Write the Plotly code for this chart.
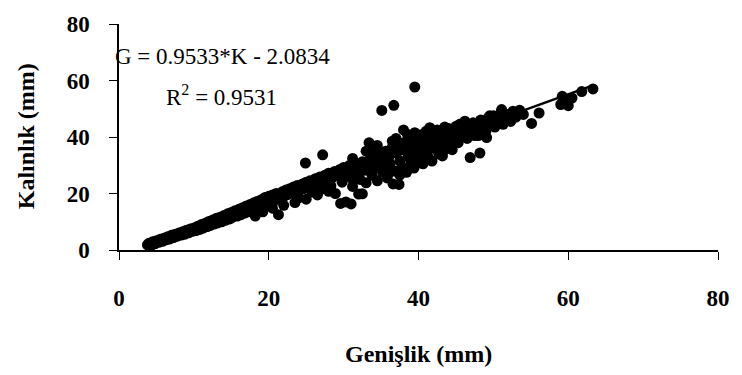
import numpy as np
import plotly.graph_objects as go

# ---- data ----
genislik = [
    # x 3.8-10
    3.8, 4.0, 4.3, 4.5, 4.8, 5.0, 5.3, 5.5, 5.8, 6.0,
    6.3, 6.5, 6.8, 7.0, 7.3, 7.5, 7.8, 8.0, 8.3, 8.5,
    8.8, 9.0, 9.3, 9.5, 9.8, 10.0,
    # x 10-20
    10.3, 10.5, 10.8, 11.0, 11.3, 11.5, 11.8, 12.0, 12.2, 12.5,
    12.7, 13.0, 13.2, 13.5, 13.7, 14.0, 14.2, 14.5, 14.8, 15.0,
    15.2, 15.5, 15.8, 16.0, 16.3, 16.5, 16.8, 17.0, 17.3, 17.5,
    17.8, 18.0, 18.2, 18.5, 18.7, 19.0, 19.2, 19.3, 19.5, 19.8, 20.0,
    # x 20-33
    20.3, 20.5, 20.5, 20.8, 21.0, 21.3, 21.5, 21.8, 22.0, 22.0,
    22.3, 22.5, 22.8, 23.0, 23.3, 23.5, 23.5, 23.8, 24.0, 24.2,
    24.5, 24.8, 24.9, 25.0, 25.0, 25.3, 25.5, 25.8, 26.0, 26.2,
    26.5, 26.5, 26.8, 27.0, 27.2, 27.3, 27.5, 27.8, 28.0, 28.0,
    28.3, 28.5, 28.8, 28.9, 29.2, 29.5, 29.6, 29.8, 30.0, 30.3,
    30.5, 30.7, 31.0, 31.2, 31.2, 31.4, 31.6, 32.0, 32.2, 32.5,
    32.5, 32.8,
    # x 33-46
    33.0, 33.2, 33.4, 33.5, 33.8, 34.0, 34.2, 34.5, 34.7, 35.0,
    35.1, 35.2, 35.4, 35.6, 35.8, 36.0, 36.2, 36.4, 36.6, 36.7,
    36.8, 37.0, 37.0, 37.2, 37.4, 37.5, 37.8, 38.0, 38.0, 38.2,
    38.4, 38.6, 38.8, 39.0, 39.2, 39.4, 39.5, 39.5, 39.6, 39.8,
    40.0, 40.2, 40.4, 40.6, 40.8, 41.0, 41.2, 41.4, 41.5, 41.8,
    42.0, 42.2, 42.5, 42.7, 43.0, 43.2, 43.4, 43.7, 44.0, 44.2,
    44.5, 44.8, 45.0, 45.3, 45.6,
    34.0, 36.0, 37.5, 40.0, 42.0, 44.0, 35.0, 39.0, 41.0, 43.5,
    30.0, 31.0, 32.0, 33.0, 34.5, 35.5, 36.5, 37.5, 38.5, 39.5,
    40.5, 41.5, 42.5, 43.5, 44.5, 45.5, 46.5, 47.5, 48.5, 49.5,
    # x 46-64
    46.0, 46.2, 46.5, 46.8, 46.9, 47.0, 47.3, 47.6, 48.0, 48.2,
    48.3, 48.6, 49.0, 49.1, 49.3, 49.6, 50.0, 50.2, 50.5, 51.0,
    51.1, 51.3, 51.6, 52.0, 52.3, 52.6, 53.0, 53.5, 54.0, 55.1,
    56.1, 59.0, 59.2, 59.6, 60.0, 60.5, 61.8, 63.3,
]

kalinlik = [
    # x 3.8-10
    1.8, 2.4, 1.6, 2.9, 2.2, 3.3, 2.7, 3.8, 3.1, 4.2,
    3.6, 4.7, 3.9, 5.2, 4.4, 5.6, 4.9, 6.0, 5.3, 6.5,
    5.6, 7.0, 6.1, 7.4, 6.6, 7.8,
    # x 10-20
    6.9, 8.4, 7.3, 9.0, 7.8, 9.5, 8.3, 10.1, 8.7, 10.6,
    9.2, 11.2, 9.6, 11.6, 10.0, 12.2, 10.5, 12.8, 11.0, 13.3,
    11.6, 13.9, 12.0, 14.4, 12.5, 15.0, 13.1, 15.6, 13.5, 16.1,
    14.0, 16.7, 12.0, 17.2, 14.6, 17.8, 13.5, 15.3, 18.6, 16.0, 19.0,
    # x 20-33
    16.8, 19.5, 14.8, 17.5, 20.0, 12.5, 18.3, 20.6, 19.0, 15.8,
    21.2, 19.6, 21.7, 20.2, 22.3, 20.7, 16.8, 22.8, 18.5, 21.3,
    23.4, 21.8, 30.8, 24.0, 18.0, 22.4, 24.5, 20.5, 23.0, 25.2,
    23.5, 19.5, 25.8, 21.5, 33.7, 24.3, 26.5, 24.8, 27.2, 20.8,
    22.7, 25.6, 27.8, 20.0, 26.3, 28.5, 16.5, 24.0, 29.2, 17.0,
    26.8, 29.8, 16.3, 22.5, 32.4, 27.5, 30.5, 19.8, 25.0, 31.2,
    19.9, 28.2,
    # x 33-46
    23.8, 30.0, 38.0, 32.0, 26.5, 29.0, 33.0, 24.5, 31.0, 34.0,
    49.4, 27.5, 29.8, 35.0, 25.5, 32.5, 30.5, 36.0, 23.4, 51.2,
    28.0, 34.5, 39.5, 37.2, 23.2, 31.5, 29.5, 38.0, 42.5, 35.5,
    27.5, 33.0, 39.0, 30.8, 36.5, 29.0, 57.7, 41.5, 40.0, 34.0,
    32.0, 38.5, 40.8, 30.5, 35.8, 42.0, 33.5, 38.0, 43.3, 31.5,
    40.5, 36.0, 42.5, 34.0, 39.0, 33.3, 41.5, 37.0, 43.0, 39.5,
    35.5, 41.8, 43.8, 38.0, 40.5,
    35.5, 27.0, 35.5, 36.5, 38.5, 37.5, 31.0, 33.5, 35.5, 35.5,
    26.0, 25.5, 28.5, 35.0, 37.0, 33.0, 38.5, 26.5, 41.0, 37.5,
    34.0, 40.0, 38.0, 43.5, 40.0, 44.5, 42.0, 40.5, 42.0, 47.5,
    # x 46-64
    42.5, 45.6, 39.5, 44.0, 32.7, 41.5, 45.0, 43.0, 40.5, 34.3,
    46.0, 44.0, 42.0, 39.8, 46.8, 45.0, 47.5, 43.5, 46.0, 48.5,
    49.7, 44.5, 47.0, 48.0, 45.5, 49.1, 47.0, 49.5, 48.0, 44.8,
    48.5, 51.5, 54.4, 52.5, 51.1, 53.8, 56.1, 57.0,
]

egim = 0.9533       # slope of the printed trend line
kesim = -2.0834     # intercept
r_kare = 0.9531

x_ticks = [0, 20, 40, 60, 80]
y_ticks = [0, 20, 40, 60, 80]

# trend line spanning the data
tx = np.array([min(genislik), max(genislik)])
ty = egim * tx + kesim

FONT = "Liberation Serif, Times New Roman, serif"

fig = go.Figure()
fig.add_trace(go.Scatter(
    x=genislik, y=kalinlik, mode="markers",
    marker=dict(symbol="circle", size=11, color="black", line=dict(width=0)),
    showlegend=False, cliponaxis=False,
))
fig.add_trace(go.Scatter(
    x=tx, y=ty, mode="lines", line=dict(color="black", width=2.5),
    showlegend=False,
))

axis_common = dict(
    showgrid=False, zeroline=False, showline=True, linecolor="black",
    linewidth=1.5, ticks="outside", ticklen=8, tickwidth=1.2,
    tickcolor="black", mirror=False, ticklabeloverflow="allow",
    tickfont=dict(family=FONT, size=23, color="black", weight="bold"),
)

fig.update_xaxes(range=[0, 80], tickvals=x_ticks, ticklabelstandoff=19,
                 **axis_common)
fig.update_yaxes(range=[0, 80], tickvals=y_ticks, ticklabelstandoff=15,
                 **axis_common)

fig.update_layout(
    width=742, height=375,
    margin=dict(l=119, r=17, t=22, b=125),
    paper_bgcolor="white", plot_bgcolor="white",
    font=dict(family=FONT, color="black"),
    annotations=[
        dict(text="Genişlik (mm)", xref="paper", yref="paper",
             x=0.5, y=-0.46, xanchor="center", yanchor="middle",
             showarrow=False,
             font=dict(family=FONT, size=24, color="black", weight="bold")),
        dict(text="Kalınlık (mm)", xref="paper", yref="paper",
             x=-0.155, y=0.504, xanchor="center", yanchor="middle",
             textangle=-90, showarrow=False,
             font=dict(family=FONT, size=24, color="black", weight="bold")),
        dict(text=f"G = {egim}*K - {abs(kesim)}", xref="paper", yref="paper",
             x=-0.0099, y=0.855, xanchor="left", yanchor="middle",
             showarrow=False,
             font=dict(family=FONT, size=23, color="black")),
        dict(text=f"R<sup>2</sup> = {r_kare}", xref="paper", yref="paper",
             x=0.0759, y=0.684, xanchor="left", yanchor="middle",
             showarrow=False,
             font=dict(family=FONT, size=23, color="black")),
    ],
)

fig.write_html("out.html")
